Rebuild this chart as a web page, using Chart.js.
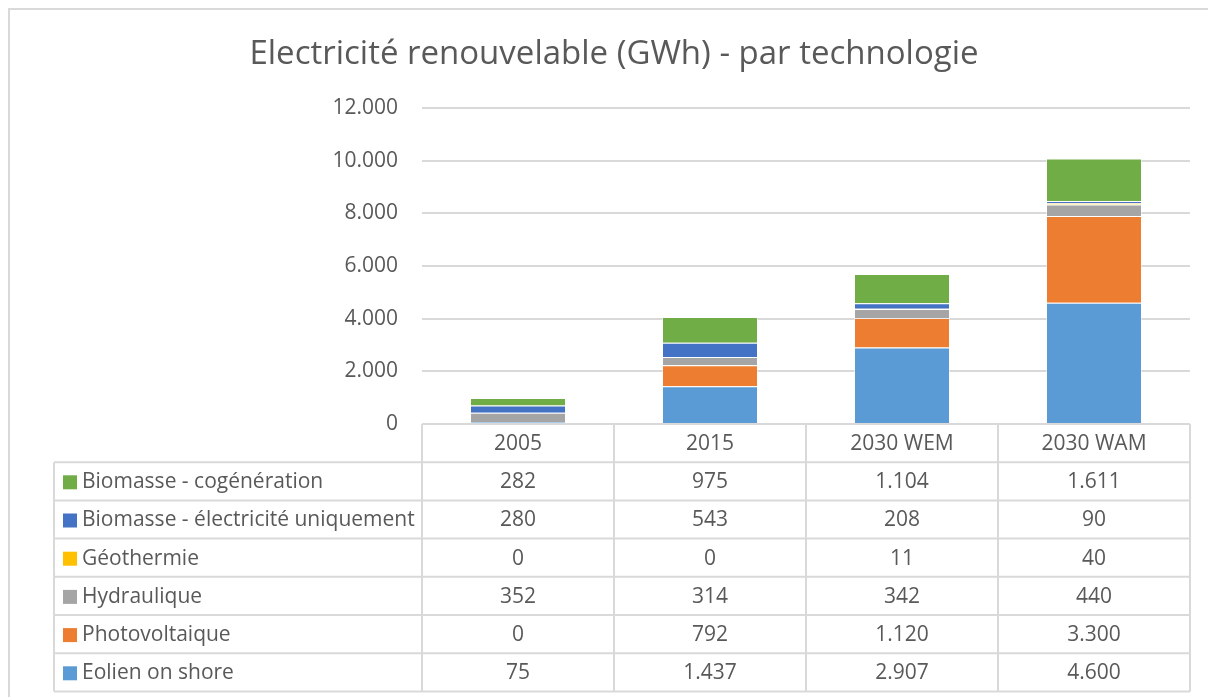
<!DOCTYPE html>
<html><head><meta charset="utf-8">
<script src="https://cdn.jsdelivr.net/npm/chart.js@4.4.1/dist/chart.umd.min.js"></script>
<style>html,body{margin:0;padding:0;background:#fff;}#wrap{width:1208px;height:697px;position:relative;}</style>
</head><body><div id="wrap"><canvas id="c" width="1208" height="697"></canvas></div>
<script>
const chartTitle = 'Electricité renouvelable (GWh) - par technologie';
const categories = ['2005', '2015', '2030 WEM', '2030 WAM'];
const eolien = [75, 1437, 2907, 4600];
const photovoltaique = [0, 792, 1120, 3300];
const hydraulique = [352, 314, 342, 440];
const geothermie = [0, 0, 11, 40];
const biomasseElec = [280, 543, 208, 90];
const biomasseCogen = [282, 975, 1104, 1611];
const yTicks = [0, 2000, 4000, 6000, 8000, 10000, 12000];

const FONT = '"Open Sans", Lato, sans-serif';
const TXT = '#595959';
const GRID = '#d9d9d9';

function fmt(v) { return String(v).replace(/\B(?=(\d{3})+(?!\d))/g, '.'); }

const series = [
  {label: 'Eolien on shore', data: eolien, color: '#5b9bd5'},
  {label: 'Photovoltaique', data: photovoltaique, color: '#ed7d31'},
  {label: 'Hydraulique', data: hydraulique, color: '#a5a5a5'},
  {label: 'Géothermie', data: geothermie, color: '#ffc000'},
  {label: 'Biomasse - électricité uniquement', data: biomasseElec, color: '#4472c4'},
  {label: 'Biomasse - cogénération', data: biomasseCogen, color: '#70ad47'}
];

const tablePlugin = {
  id: 'tablePlugin',
  beforeDraw(chart) {
    const ctx = chart.ctx;
    ctx.save();
    ctx.strokeStyle = GRID; ctx.lineWidth = 2;
    ctx.strokeRect(9, 9, 1400, 900);
    ctx.fillStyle = TXT;
    ctx.font = '33px ' + FONT;
    ctx.textAlign = 'center'; ctx.textBaseline = 'middle';
    ctx.fillText(chartTitle, 614, 55);
    ctx.restore();
  },
  afterDraw(chart) {
    const ctx = chart.ctx;
    const a = chart.chartArea;
    const xs = chart.scales.x;
    const n = categories.length;
    const colW = (a.right - a.left) / n;
    const rowH = 38.2;
    const top = a.bottom;
    const legendLeft = 54;
    const rows = series.slice().reverse();
    const bottom = top + rowH * (rows.length + 1);
    ctx.save();
    ctx.strokeStyle = GRID; ctx.lineWidth = 2;
    ctx.beginPath();
    ctx.moveTo(a.left, top); ctx.lineTo(a.right, top);
    for (let r = 1; r <= rows.length + 1; r++) {
      const y = top + rowH * r;
      ctx.moveTo(legendLeft, y); ctx.lineTo(a.right, y);
    }
    ctx.moveTo(legendLeft, top + rowH); ctx.lineTo(legendLeft, bottom);
    for (let i = 0; i <= n; i++) {
      const x = a.left + colW * i;
      ctx.moveTo(x, top); ctx.lineTo(x, bottom);
    }
    ctx.stroke();
    ctx.fillStyle = TXT;
    ctx.font = '21px ' + FONT;
    ctx.textAlign = 'center'; ctx.textBaseline = 'middle';
    categories.forEach((c, i) => {
      ctx.fillText(c, xs.getPixelForValue(i), top + rowH / 2 + 1);
    });
    rows.forEach((s, r) => {
      const yc = top + rowH * (r + 1) + rowH / 2 + 1;
      ctx.fillStyle = s.color;
      ctx.fillRect(63, yc - 7, 14, 14);
      ctx.fillStyle = TXT;
      ctx.textAlign = 'left';
      ctx.fillText(s.label, 82, yc);
      ctx.textAlign = 'center';
      s.data.forEach((v, i) => ctx.fillText(fmt(v), xs.getPixelForValue(i), yc));
    });
    ctx.restore();
  }
};

new Chart(document.getElementById('c'), {
  type: 'bar',
  data: {
    labels: categories,
    datasets: series.map(s => ({
      label: s.label, data: s.data, backgroundColor: s.color,
      borderColor: 'rgba(255,255,255,0.45)', borderWidth: 1,
      barPercentage: 0.5, categoryPercentage: 1
    }))
  },
  options: {
    responsive: false, animation: false,
    layout: {padding: {left: 0, right: 18, top: 108, bottom: 273}},
    plugins: {legend: {display: false}, title: {display: false}, tooltip: {enabled: false}},
    scales: {
      x: {stacked: true, display: false},
      y: {
        stacked: true, min: 0, max: 12000,
        afterFit(s) { s.width = 422; },
        afterBuildTicks(s) { s.ticks = yTicks.map(v => ({value: v})); },
        grid: {color: GRID, lineWidth: 2, drawTicks: false},
        border: {display: false},
        ticks: {padding: 24, color: TXT, font: {family: FONT, size: 21}, callback: v => fmt(v)}
      }
    }
  },
  plugins: [tablePlugin]
});
</script></body></html>
